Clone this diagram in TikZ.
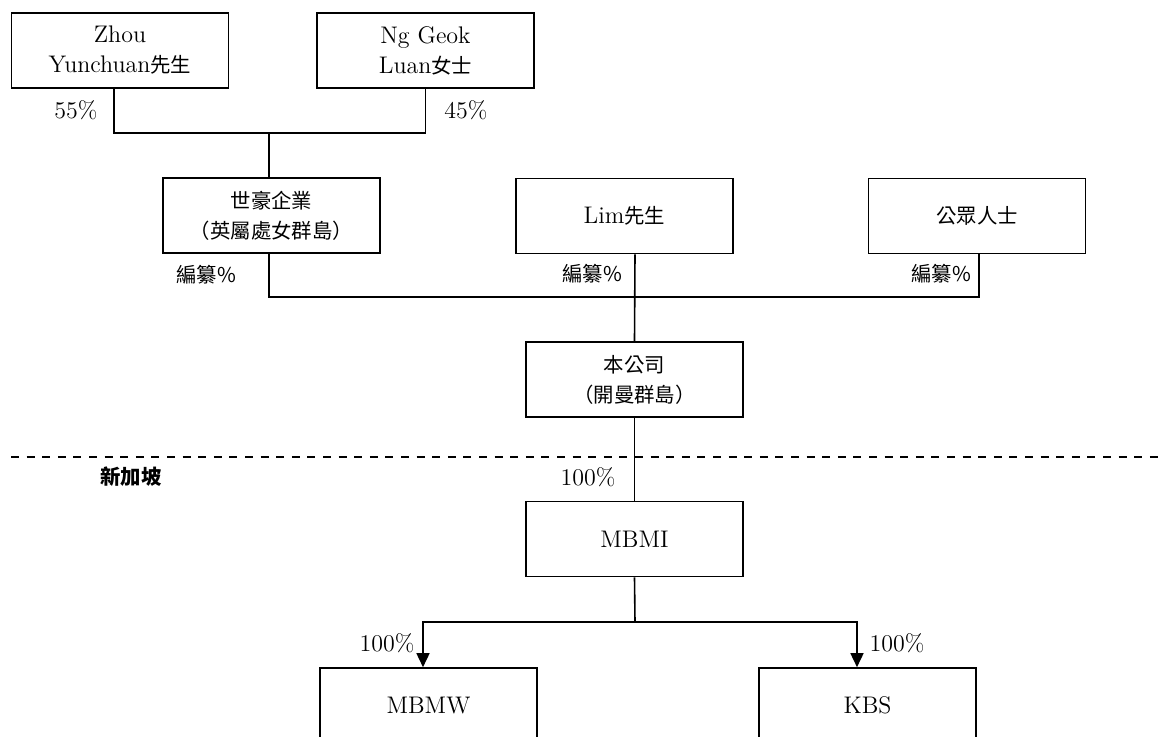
\documentclass[tikz,border=0pt]{standalone}
\usepackage{fontspec}
\newfontfamily\cjk{Noto Sans CJK TC}[Scale=0.85]
\usetikzlibrary{arrows.meta}
\begin{document}
\begin{tikzpicture}[x=0.5pt,y=-0.5pt,line width=0.8pt,
  font=\fontsize{12}{15}\selectfont,
  box/.style={draw,minimum width=108.5pt,minimum height=37.5pt,align=center,inner sep=0pt},
  own/.style={-{Triangle[width=6.5pt,length=7pt]}}]
\useasboundingbox (0,0) rectangle (1163,737);
\clip (0,0) rectangle (1163,737);
\node[box] (zhou) at (120,50.5) {Zhou\\Yunchuan{\cjk 先生}};
\node[box] (ng) at (425.5,50.5) {Ng Geok\\Luan{\cjk 女士}};
\node[box] (shihao) at (271.5,215.5) {{\cjk 世豪企業}\\{\cjk （英屬處女群島）}};
\node[box] (lim) at (624.5,216) {Lim{\cjk 先生}};
\node[box] (public) at (977,216) {\cjk 公眾人士};
\node[box] (co) at (634.5,379.5) {{\cjk 本公司}\\{\cjk （開曼群島）}};
\node[box] (mbmi) at (634.5,539) {MBMI};
\node[box] (mbmw) at (428.5,705.5) {MBMW};
\node[box] (kbs) at (867.5,705.5) {KBS};
% percentages
\node (p55) at (76,110) {55\%};
\node (p45) at (466,110) {45\%};
\node (pshihao) at (206,275) {\cjk 編纂\%};
\node (plim) at (592,274) {\cjk 編纂\%};
\node (ppublic) at (941,274) {\cjk 編纂\%};
\node (pco) at (588,477) {100\%};
\node (pmbmw) at (387,643) {100\%};
\node (pkbs) at (897,643) {100\%};
\node (sg) at (131,477) {\cjk\bfseries 新加坡};
% border line
\draw[dash pattern=on 4pt off 3.8pt] (11,457) -- (1163,457);
% connectors
\coordinate (top) at (269,133);
\coordinate (mid) at (635,297);
\coordinate (fork) at (635,622);
\draw ([xshift=-3pt]zhou.south) |- (top) -| (ng.south);
\draw (top) -- (top |- shihao.north);
\draw (top |- shihao.south) |- (mid) -| ([xshift=1pt]public.south);
\draw (mid |- lim.south) -- (co.north);
\draw (co.south) -- (mbmi.north);
\draw (mbmi.south) -- (fork);
\draw[own] (fork) -| ([xshift=-2.75pt]mbmw.north);
\draw[own] (fork) -| ([xshift=-5.25pt]kbs.north);
\end{tikzpicture}
\end{document}
